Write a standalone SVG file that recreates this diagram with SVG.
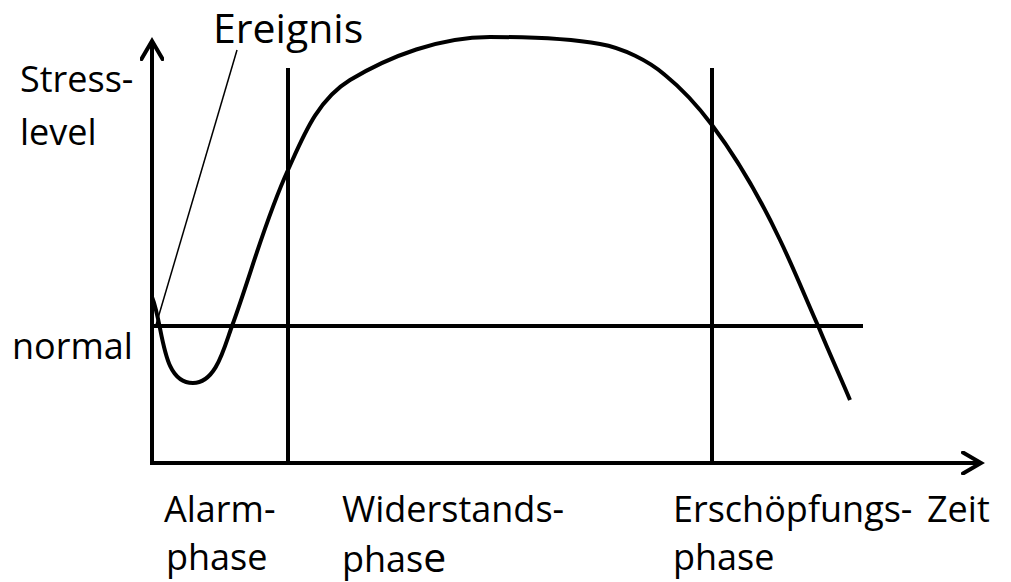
<svg xmlns="http://www.w3.org/2000/svg" width="1011" height="582" viewBox="0 0 1011 582">
<style>
.t{font-family:"Open Sans","Noto Sans","Liberation Sans",sans-serif;font-size:36px;fill:#000}
.ln{stroke:#000;stroke-width:4;fill:none}
.thin{stroke:#000;stroke-width:1.5;fill:none}
</style>
<defs>
<marker id="arr" markerWidth="24" markerHeight="24" refX="20" refY="12" orient="auto" markerUnits="userSpaceOnUse">
<path d="M2,1.5 L20,12 L2,22.5" fill="none" stroke="#000" stroke-width="4" stroke-linecap="round" stroke-linejoin="miter"/>
</marker>
</defs>
<rect width="1011" height="582" fill="#fff"/>
<g id="connectors">
<line id="y-axis" class="ln" x1="152" y1="465" x2="152" y2="41" marker-end="url(#arr)"/>
<line id="x-axis" class="ln" x1="150" y1="463" x2="981" y2="463" marker-end="url(#arr)"/>
<line id="normal-line" class="ln" x1="150" y1="326" x2="863" y2="326"/>
<line id="div1" class="ln" x1="288" y1="68" x2="288" y2="465"/>
<line id="div2" class="ln" x1="712" y1="68" x2="712" y2="465"/>
<line id="ereignis-line" class="thin" x1="237" y1="50" x2="156" y2="325"/>
<path id="curve" class="ln" d="M152,297 C164,327 161,383 193,383 C216,383 224,348 232,326 C251,274 265,220 288,170 C303,137 317,100 350,80 C390,56 440,37 490,37 C527,37 566,38 600,44 C623,48 649,61 665,75 C681,88 700,109 712,125 C739,161 761,200 780,240 C794,269 806,299 819,328 C831,357 840,376 850,400"/>
</g>
<g id="label-ereignis"><text class="t" x="213" y="43" style="font-size:41px">Ereignis</text></g>
<g id="label-stresslevel"><text class="t" x="20" y="92">Stress-</text><text class="t" x="20" y="145">level</text></g>
<g id="label-normal"><text class="t" x="12" y="359">normal</text></g>
<g id="label-alarm"><text class="t" x="164" y="522">Alarm-</text><text class="t" x="166" y="570">phase</text></g>
<g id="label-widerstand"><text class="t" x="342" y="522">Widerstands-</text><text class="t" x="342" y="572">phas<tspan style="font-size:41px">e</tspan></text></g>
<g id="label-erschoepfung"><text class="t" x="673" y="522">Erschöpfungs-</text><text class="t" x="673" y="570">phase</text></g>
<g id="label-zeit"><text class="t" x="927" y="522">Zeit</text></g>
</svg>
